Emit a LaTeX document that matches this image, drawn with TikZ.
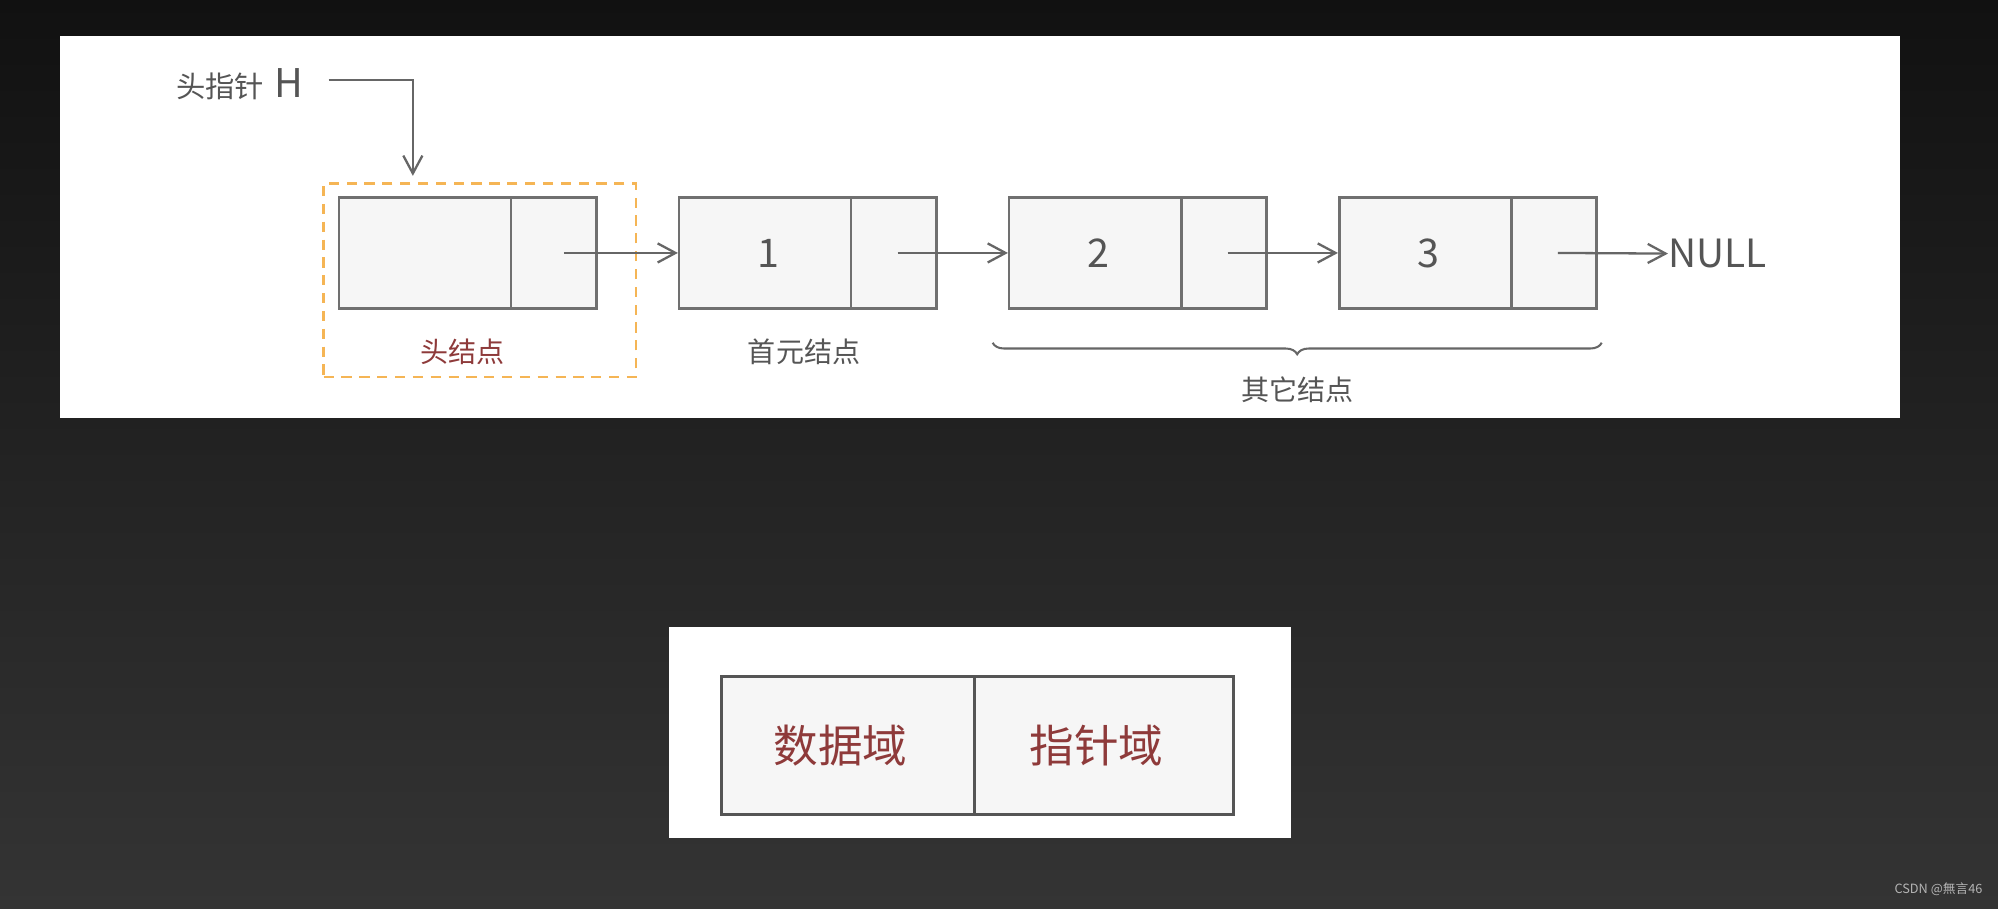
\documentclass[tikz,border=0pt]{standalone}
\usepackage{fontspec}
\setmainfont{Noto Sans CJK SC}
\usetikzlibrary{arrows.meta,decorations.pathreplacing}
\definecolor{boxfill}{HTML}{F6F6F6}
\definecolor{boxline}{HTML}{707070}
\definecolor{boxline2}{HTML}{555555}
\definecolor{txtgray}{HTML}{555555}
\definecolor{arrgray}{HTML}{666666}
\definecolor{darkred}{HTML}{8E3A3A}
\definecolor{dashorange}{HTML}{F5B555}
\definecolor{bgtop}{HTML}{111111}
\definecolor{bgbot}{HTML}{343434}
\definecolor{wmgray}{HTML}{B4B4B4}
\begin{document}
\begin{tikzpicture}[x=1pt,y=1pt,
  cell/.style={draw=boxline, fill=boxfill, line width=2pt, minimum height=87pt, inner sep=0pt,
    font=\fontsize{31}{31}\selectfont, text=txtgray},
  dcell/.style={cell, minimum width=135pt},
  pcell/.style={cell, minimum width=67pt},
  bigcell/.style={draw=boxline2, fill=boxfill, line width=2.4pt, minimum height=108pt, inner sep=0pt,
    font=\fontsize{35}{35}\selectfont, text=darkred},
  arr/.style={draw=arrgray, line width=1.8pt, -{Straight Barb[length=14pt,width=15pt,line width=1.8pt]}},
  lbl/.style={font=\fontsize{22}{22}\selectfont, text=txtgray, inner sep=0pt},
]
\useasboundingbox (0,0) rectangle (1568,-713);
\shade[top color=bgtop, bottom color=bgbot] (0,0) rectangle (1568,-713);
% panels
\fill[white] (47,-28) rectangle (1491,-328);
\fill[white] (525,-492) rectangle (1013,-658);

% head pointer
\node[inner sep=0pt, anchor=west, text=txtgray] (hp) at (138,-66)
  {\fontsize{23}{23}\selectfont 头指针\hspace{8pt}\fontsize{31}{31}\selectfont H};
\coordinate (hptip) at (324,-138);

% dashed head-node frame
\node[draw=dashorange, dash pattern=on 8pt off 6pt, line width=2pt,
  minimum width=245pt, minimum height=152pt, inner sep=0pt] (hb) at (376.5,-220) {};

% nodes
\node[dcell] (d0) at (333.5,-198.5) {};
\node[pcell] (p0) at (434.5,-198.5) {};
\node[dcell] (d1) at (600.5,-198.5) {\hspace*{5pt}1};
\node[pcell] (p1) at (701.5,-198.5) {};
\node[dcell] (d2) at (859.5,-198.5) {\hspace*{5pt}2};
\node[pcell] (p2) at (960.5,-198.5) {};
\node[dcell] (d3) at (1118.5,-198.5) {\hspace*{5pt}3};
\node[pcell] (p3) at (1219.5,-198.5) {};
\node[anchor=west, inner sep=0pt, text=txtgray, font=\fontsize{30.5}{30}\selectfont] (null) at (1309,-199) {NULL};

% arrows
\draw[arr] ([xshift=20pt,yshift=3pt]hp.east) -| (hptip);
\draw[arr] ([xshift=8pt]p0.center) -- (d1.west);
\draw[arr] ([xshift=3pt]p1.center) -- (d2.west);
\draw[arr] ([xshift=3pt]p2.center) -- (d3.west);
\draw[arr] ([xshift=3pt]p3.center) -- (null.west);

% labels
\node[lbl, text=darkred] (l0) at (363,-276) {头结点};
\node[lbl] (l1) at (631,-276) {首元结点};
\coordinate (bl) at (779,-269);
\coordinate (br) at (1257,-269);
\draw[arrgray, line width=1.6pt, decorate, decoration={brace, mirror, amplitude=9pt}] (bl) -- (br);
\node[lbl] (l2) at (1018,-306) {其它结点};

% bottom legend
\node[bigcell, minimum width=199pt] (dd) at (665.5,-585) {\hspace*{-12pt}数据域};
\node[bigcell, minimum width=203pt] (pp) at (866.5,-585) {\hspace*{-12pt}指针域};

% watermark
\node[inner sep=0pt, anchor=east, text=wmgray, font=\fontsize{10}{11}\selectfont] (wm) at (1556,-698) {CSDN @無言46};
\end{tikzpicture}
\end{document}
